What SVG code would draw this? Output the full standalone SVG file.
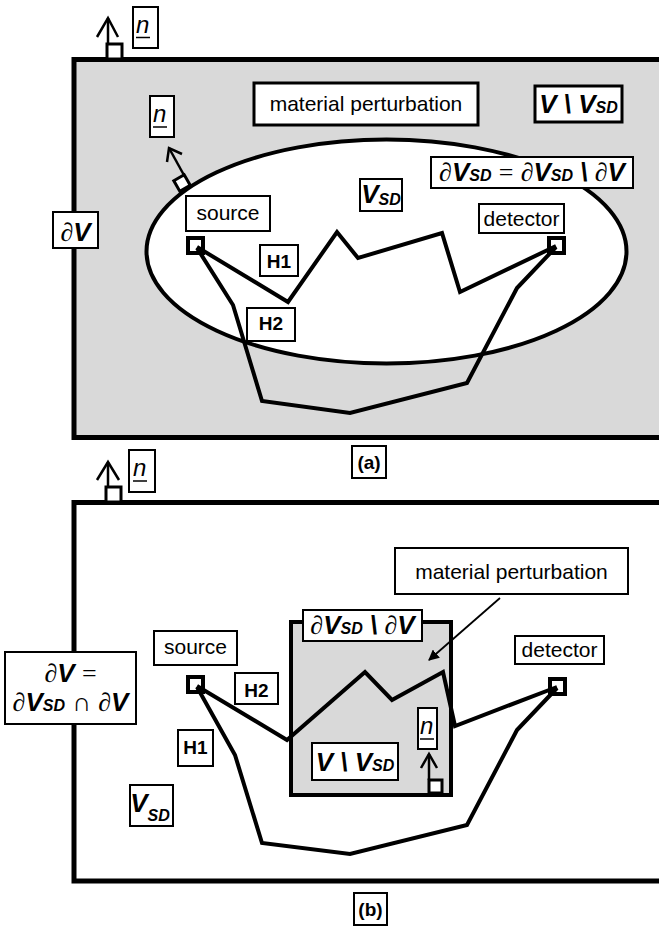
<svg xmlns="http://www.w3.org/2000/svg" width="659" height="926" viewBox="0 0 659 926">
<style>
.bx{fill:#fff;stroke:#000;stroke-width:2}
.bx3{fill:#fff;stroke:#000;stroke-width:3}
.ln{fill:none;stroke:#000;stroke-width:4;stroke-linejoin:miter}
.ar{fill:none;stroke:#000;stroke-width:2.5}
.t{font-family:"Liberation Sans",Arial,sans-serif;font-size:21px;fill:#000}
.h{font-family:"Liberation Sans",Arial,sans-serif;font-size:19px;font-weight:bold;fill:#000}
.m{font-family:"Liberation Sans",Arial,sans-serif;font-size:26px;font-weight:bold;font-style:italic;fill:#000}
.s{font-size:16px}
.d{font-family:"Liberation Serif","DejaVu Serif",serif;font-weight:normal;font-style:normal}
.n{font-family:"Liberation Sans",Arial,sans-serif;font-size:24px;font-style:italic;fill:#000}
.sq{fill:#fff;stroke:#000;stroke-width:3}
.sd{fill:none;stroke:#000;stroke-width:4}
</style>
<defs>
<marker id="ah" viewBox="0 0 10 10" refX="9" refY="5" markerWidth="6" markerHeight="6" orient="auto" markerUnits="strokeWidth">
<path d="M0,0 L10,5 L0,10 z" fill="#000"/>
</marker>
</defs>

<!-- Panel (a) -->
<g id="panel-a">
<rect x="74" y="59.5" width="640" height="378" fill="#d9d9d9" stroke="#000" stroke-width="5"/>
<ellipse cx="386.5" cy="251.5" rx="240" ry="112" fill="#fff" stroke="#000" stroke-width="4"/>
</g>

<g id="connectors-a">
<polyline class="ln" points="197,247 288,302 337,232 358,258 442,233 460,292 556,246"/>
<polyline class="ln" points="197,248 233,305 262,401 350,413 467,383 517,288 556,247"/>
</g>

<g id="normal-a-top">
<rect class="sq" x="107" y="44" width="15" height="15"/>
<line class="ar" x1="108" y1="44" x2="108" y2="18"/>
<polyline class="ar" points="97,37 108,18 118,37"/>
</g>
<g id="n-a-top">
<rect class="bx" x="133" y="7" width="25" height="41"/>
<text class="n" x="136" y="33">n</text>
<line x1="136" y1="37.5" x2="150" y2="37.5" stroke="#000" stroke-width="1.5"/>
</g>

<g id="normal-a-inner">
<rect class="sq" x="176" y="177" width="12" height="12" transform="rotate(-30 182 183)"/>
<line class="ar" x1="185" y1="177" x2="169" y2="148"/>
<polyline class="ar" points="167,162 169,148 182,154"/>
</g>
<g id="n-a-inner">
<rect class="bx" x="150" y="96" width="24" height="41"/>
<text class="n" x="153" y="122">n</text>
<line x1="153" y1="127" x2="167" y2="127" stroke="#000" stroke-width="1.5"/>
</g>

<g id="material-a">
<rect class="bx3" x="254" y="83" width="224" height="42"/>
<text class="t" x="366" y="111" text-anchor="middle">material perturbation</text>
</g>

<g id="VminusVSD-a">
<rect class="bx3" x="535" y="86" width="87" height="36"/>
<text class="m" x="578.5" y="113" text-anchor="middle">V \ V<tspan class="s">SD</tspan></text>
</g>

<g id="dVSD-a">
<rect class="bx" x="431" y="157" width="202" height="31"/>
<text class="m" x="532" y="181" text-anchor="middle"><tspan class="d">∂</tspan>V<tspan class="s">SD</tspan> <tspan class="d">=</tspan> <tspan class="d">∂</tspan>V<tspan class="s">SD</tspan> \ <tspan class="d">∂</tspan>V</text>
</g>

<g id="dV-a">
<rect class="bx" x="53" y="212" width="45" height="36"/>
<text class="m" x="75.5" y="241" text-anchor="middle"><tspan class="d">∂</tspan>V</text>
</g>

<g id="VSD-a">
<rect class="bx" x="360" y="179" width="42" height="32"/>
<text class="m" x="381" y="203" text-anchor="middle">V<tspan class="s" dy="2">SD</tspan></text>
</g>

<g id="source-a">
<rect class="bx" x="186" y="196" width="84" height="35"/>
<text class="t" x="228" y="220" text-anchor="middle">source</text>
<rect class="sd" x="188" y="238" width="15" height="15"/>
</g>

<g id="detector-a">
<rect class="bx" x="479" y="204" width="85" height="29"/>
<text class="t" x="521.5" y="226" text-anchor="middle">detector</text>
<rect class="sd" x="549" y="238" width="15" height="15"/>
</g>

<g id="H1-a">
<rect class="bx" x="260" y="245" width="38" height="31"/>
<text class="h" x="279" y="268" text-anchor="middle">H1</text>
</g>
<g id="H2-a">
<rect class="bx" x="247" y="308" width="48" height="33"/>
<text class="h" x="271" y="330" text-anchor="middle">H2</text>
</g>

<g id="label-a">
<rect class="bx" x="352" y="446" width="34" height="32"/>
<text class="h" x="369" y="469" text-anchor="middle">(a)</text>
</g>

<!-- Panel (b) -->
<g id="panel-b">
<rect x="74" y="502.5" width="640" height="378.5" fill="#fff" stroke="#000" stroke-width="5"/>
<rect x="291" y="622" width="160" height="173" fill="#d9d9d9" stroke="#000" stroke-width="4"/>
</g>

<g id="connectors-b">
<polyline class="ln" points="197,686 287,740 365,672 392,700 443,672 455,726 557,687"/>
<polyline class="ln" points="197,687 235,755 262,843 350,854 467,825 517,730 557,688"/>
<line x1="500" y1="598" x2="429" y2="660" stroke="#000" stroke-width="1.8" marker-end="url(#ah)"/>
</g>

<g id="normal-b-top">
<rect class="sq" x="106" y="487" width="15" height="15"/>
<line class="ar" x1="108" y1="487" x2="108" y2="462"/>
<polyline class="ar" points="97,480 108,462 119,480"/>
</g>
<g id="n-b-top">
<rect class="bx" x="129" y="450" width="26" height="42"/>
<text class="n" x="133" y="476">n</text>
<line x1="133" y1="481" x2="147" y2="481" stroke="#000" stroke-width="1.5"/>
</g>

<g id="normal-b-inner">
<rect class="sq" x="429" y="780" width="13" height="13"/>
<line class="ar" x1="429" y1="780" x2="429" y2="754"/>
<polyline class="ar" points="421,768 429,754 437,768"/>
</g>
<g id="n-b-inner">
<rect class="bx" x="418" y="708" width="19" height="41"/>
<text class="n" x="420" y="734">n</text>
<line x1="420" y1="739" x2="434" y2="739" stroke="#000" stroke-width="1.5"/>
</g>

<g id="material-b">
<rect class="bx" x="395" y="548" width="233" height="46"/>
<text class="t" x="511.5" y="579" text-anchor="middle">material perturbation</text>
</g>

<g id="dVSDminus-b">
<rect class="bx" x="303" y="610" width="119" height="31"/>
<text class="m" x="362.5" y="634" text-anchor="middle"><tspan class="d">∂</tspan>V<tspan class="s">SD</tspan> \ <tspan class="d">∂</tspan>V</text>
</g>

<g id="VminusVSD-b">
<rect class="bx" x="312" y="743" width="86" height="37"/>
<text class="m" x="355" y="771" text-anchor="middle">V \ V<tspan class="s">SD</tspan></text>
</g>

<g id="dV-b">
<rect class="bx" x="5" y="652" width="131" height="72"/>
<text class="m" x="70.5" y="682" text-anchor="middle"><tspan class="d">∂</tspan>V <tspan class="d">=</tspan></text>
<text class="m" x="70.5" y="711" text-anchor="middle"><tspan class="d">∂</tspan>V<tspan class="s">SD</tspan> <tspan class="d">∩</tspan> <tspan class="d">∂</tspan>V</text>
</g>

<g id="VSD-b">
<rect class="bx" x="130" y="785" width="43" height="41"/>
<text class="m" x="150" y="812" text-anchor="middle">V<tspan class="s" dy="9">SD</tspan></text>
</g>

<g id="source-b">
<rect class="bx" x="154" y="631" width="83" height="34"/>
<text class="t" x="195.5" y="654" text-anchor="middle">source</text>
<rect class="sd" x="188" y="677" width="15" height="15"/>
</g>

<g id="detector-b">
<rect class="bx" x="515" y="636" width="89" height="28"/>
<text class="t" x="559.5" y="657" text-anchor="middle">detector</text>
<rect class="sd" x="550" y="679" width="15" height="15"/>
</g>

<g id="H2-b">
<rect class="bx" x="235" y="673" width="43" height="31"/>
<text class="h" x="256.5" y="697" text-anchor="middle">H2</text>
</g>
<g id="H1-b">
<rect class="bx" x="178" y="730" width="35" height="36"/>
<text class="h" x="195.5" y="754" text-anchor="middle">H1</text>
</g>

<g id="label-b">
<rect class="bx" x="354" y="893" width="33" height="32"/>
<text class="h" x="370.5" y="916" text-anchor="middle">(b)</text>
</g>
</svg>
